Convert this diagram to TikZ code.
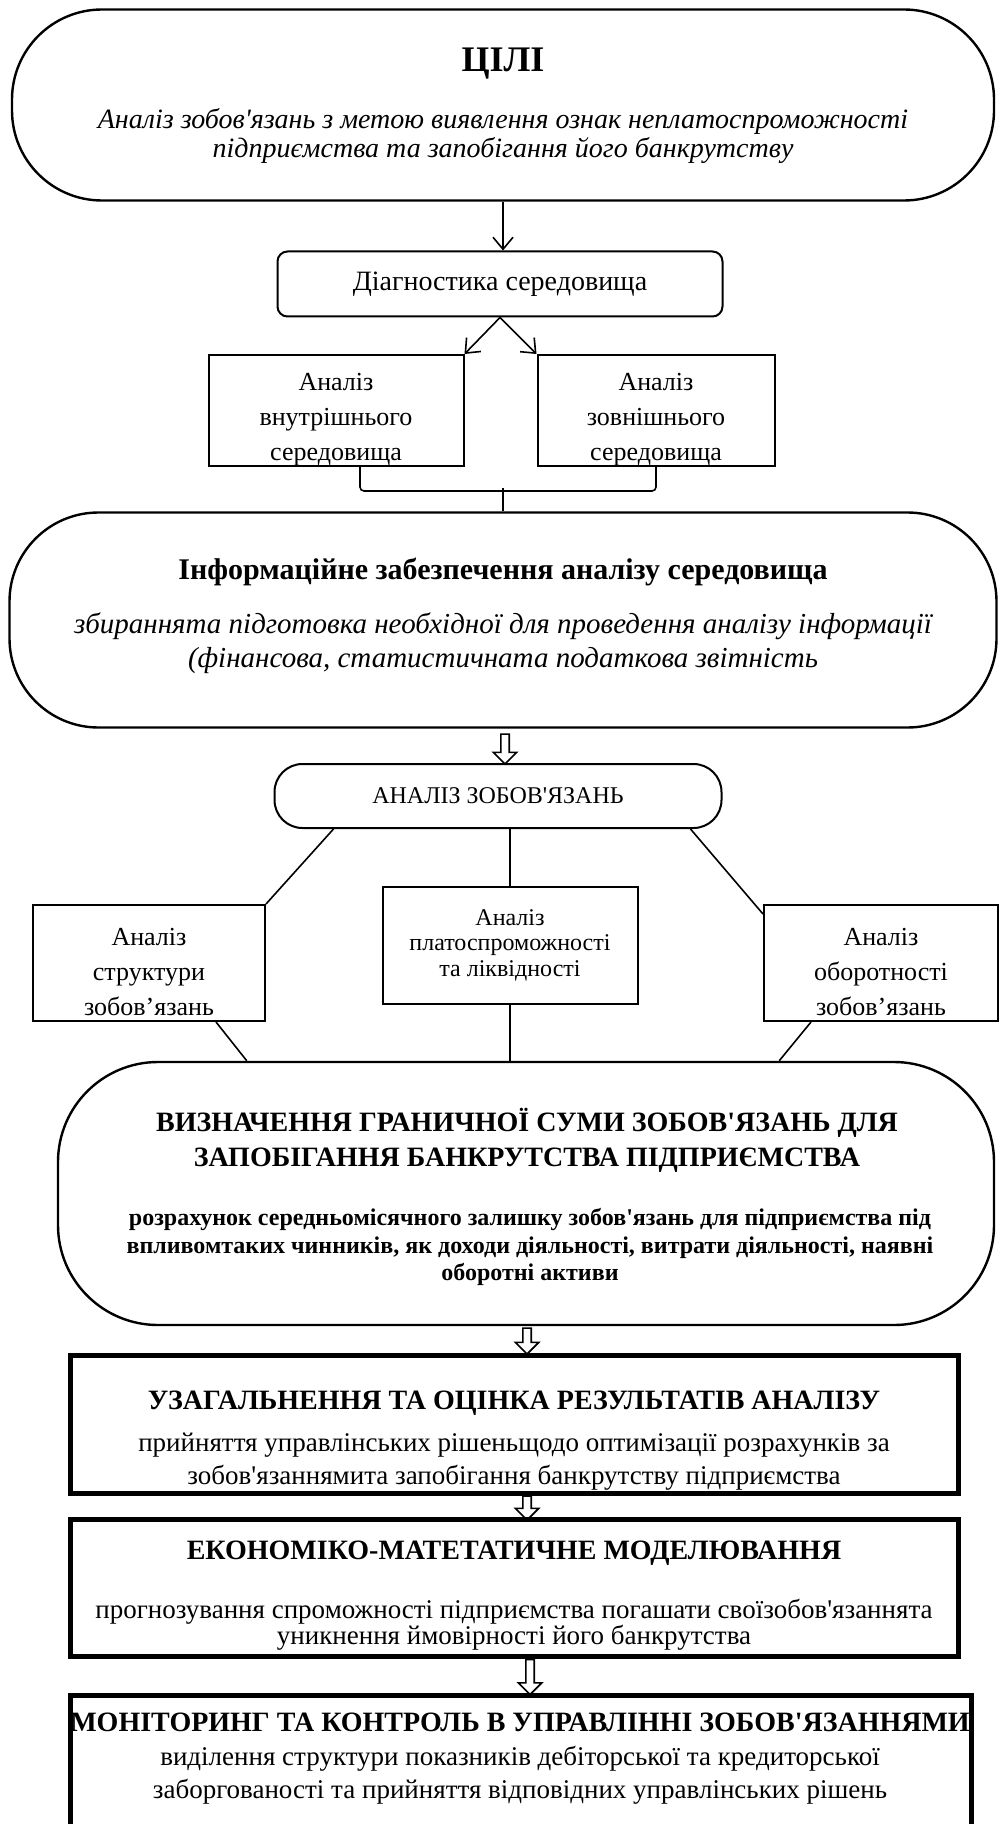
\documentclass[tikz,border=0pt]{standalone}
\usepackage{fontspec}
\setmainfont{Liberation Serif}
\usetikzlibrary{arrows.meta,shapes.arrows}
\newcommand{\fsz}[2]{\fontsize{#1}{#2}\selectfont}
\newcommand{\q}{\textquotesingle}

\begin{document}
\begin{tikzpicture}[x=0.5pt,y=-0.5pt,
    every node/.style={align=center,inner sep=0pt},
    oval/.style={draw,line width=1.2pt,rounded corners=#1},
    box/.style={draw,line width=1pt},
    rbox/.style={draw,line width=1pt,rounded corners=#1},
    fatbox/.style={draw,line width=2.5pt},
    sidetext/.style={label={[font=\fsz{13}{17.5},yshift=-4.5pt]center:{#1}}},
    link/.style={line width=0.8pt},
    pointer/.style={line width=0.8pt,-{Straight Barb[length=6pt,width=10pt]}},
    hollow/.style={single arrow,draw,line width=0.8pt,shape border rotate=270,
      inner sep=1.7pt,single arrow head extend=3.8pt,minimum height=#1}]

    \useasboundingbox (0,0) rectangle (1002,1824);
    \clip (0,0) rectangle (1002,1824);

    % Goal of the analysis
    \node[oval=45pt,minimum width=491pt,minimum height=95.5pt] (goal) at (503,105) {};
    \node[font=\fsz{18}{20}\bfseries] (goalT) at (503,64) {ЦІЛІ};
    \node[font=\fsz{14}{14.5}\itshape] (goalD) at (503,136)
      {Аналіз зобов\q язань з метою виявлення ознак неплатоспроможності\\
       підприємства та запобігання його банкрутству};

    % Diagnostics of the environment
    \node[rbox=5pt,minimum width=222.5pt,minimum height=32.5pt,font=\fsz{14}{16}] (diag) at (500,284)
      {Діагностика середовища};
    \draw[pointer] (goal.south) -- (goal.south |- diag.north);
    \node[box,minimum width=127.5pt,minimum height=55.5pt,
      sidetext={Аналіз\\ внутрішнього\\ середовища}] (inner) at (336,410.5) {};
    \node[box,minimum width=118.5pt,minimum height=55.5pt,
      sidetext={Аналіз\\ зовнішнього\\ середовища}] (outer) at (656,410.5) {};
    \draw[pointer] (diag.south) -- (inner.north east);
    \draw[pointer] (diag.south) -- (outer.north west);
    \draw[link,rounded corners=2pt] ([xshift=12pt]inner.south) |- ([yshift=-12pt]outer.south) -- (outer.south);

    % Information support
    \node[oval=44.5pt,minimum width=493.5pt,minimum height=107.5pt] (info) at (503,620) {};
    \draw[link] (info.north) -- ++(0,-23);
    \node[font=\fsz{15}{17}\bfseries] (infoT) at (503,572)
      {Інформаційне забезпечення аналізу середовища};
    \node[font=\fsz{14.5}{17}\itshape] (infoD) at (503,643)
      {збираннята підготовка необхідної для проведення аналізу інформації\\
       (фінансова, статистичната податкова звітність};
    \node[hollow=15pt] (h1) at (505,747) {};

    % Analysis of obligations
    \node[rbox=14pt,minimum width=223.5pt,minimum height=32pt,font=\fsz{12}{14}] (obl) at (498,796)
      {АНАЛІЗ ЗОБОВ\q ЯЗАНЬ};
    \node[box,minimum width=116pt,minimum height=58pt,
      sidetext={Аналіз\\ структури\\ зобов’язань}] (struct) at (149,963) {};
    \node[box,minimum width=127.5pt,minimum height=58.5pt,font=\fsz{12}{12.75}] (solv) at (510,945)
      {Аналіз\\ платоспроможності\\ та ліквідності};
    \node[box,minimum width=117pt,minimum height=58pt,
      sidetext={Аналіз\\ оборотності\\ зобов’язань}] (turn) at (881,963) {};
    \draw[link] ([xshift=30pt]obl.south west) -- (struct.north east);
    \draw[link] (solv.north |- obl.south) -- (solv.north);
    \draw[link] ([xshift=-16pt]obl.south east) -- ([yshift=-5pt]turn.north west);

    % Limit sum of obligations
    \node[oval=50pt,minimum width=468pt,minimum height=131.5pt] (limit) at (526,1193.5) {};
    \node[font=\fsz{14}{17.5}\bfseries] (limitT) at (527,1140)
      {ВИЗНАЧЕННЯ ГРАНИЧНОЇ СУМИ ЗОБОВ\q ЯЗАНЬ ДЛЯ\\ ЗАПОБІГАННЯ БАНКРУТСТВА ПІДПРИЄМСТВА};
    \node[font=\fsz{12}{13.75}\bfseries] (limitD) at (530,1247)
      {розрахунок середньомісячного залишку зобов\q язань для підприємства під\\
       впливомтаких чинників, як доходи діяльності, витрати діяльності, наявні\\
       оборотні активи};
    \draw[link] ([xshift=-25pt]struct.south east) -- ([xshift=95pt]limit.north west);
    \draw[link] (solv.south) -- (solv.south |- limit.north);
    \draw[link] ([xshift=-35pt]turn.south) -- ([xshift=-108pt]limit.north east);
    \node[hollow=13pt] (h2) at (527,1339) {};

    % Generalisation and evaluation
    \node[fatbox,minimum width=444pt,minimum height=69pt] (sum) at (514,1424) {};
    \node[font=\fsz{14}{16}\bfseries] (sumT) at (514,1403)
      {УЗАГАЛЬНЕННЯ ТА ОЦІНКА РЕЗУЛЬТАТІВ АНАЛІЗУ};
    \node[font=\fsz{13.5}{16.5}] (sumD) at (514,1462)
      {прийняття управлінських рішеньщодо оптимізації розрахунків за\\
       зобов\q язаннямита запобігання банкрутству підприємства};
    \node[hollow=12pt] (h3) at (527,1506) {};

    % Modelling
    \node[fatbox,minimum width=444pt,minimum height=68.5pt] (model) at (514,1588) {};
    \node[font=\fsz{14}{16}\bfseries] (modelT) at (514,1553)
      {ЕКОНОМІКО-МАТЕТАТИЧНЕ МОДЕЛЮВАННЯ};
    \node[font=\fsz{13.5}{13}] (modelD) at (514,1625)
      {прогнозування спроможності підприємства погашати своїзобов\q язаннята\\
       уникнення ймовірності його банкрутства};
    \node[hollow=17.5pt] (h4) at (530,1675) {};

    % Monitoring and control
    \node[fatbox,minimum width=450.5pt,minimum height=77.5pt] (monit) at (520.5,1772.5) {};
    \node[font=\fsz{14}{16}\bfseries] (monitT) at (520,1722)
      {МОНІТОРИНГ ТА КОНТРОЛЬ В УПРАВЛІННІ ЗОБОВ\q ЯЗАННЯМИ};
    \node[font=\fsz{13.5}{16.5}] (monitD) at (520,1775)
      {виділення структури показників дебіторської та кредиторської\\
       заборгованості та прийняття відповідних управлінських рішень};
\end{tikzpicture}
\end{document}
